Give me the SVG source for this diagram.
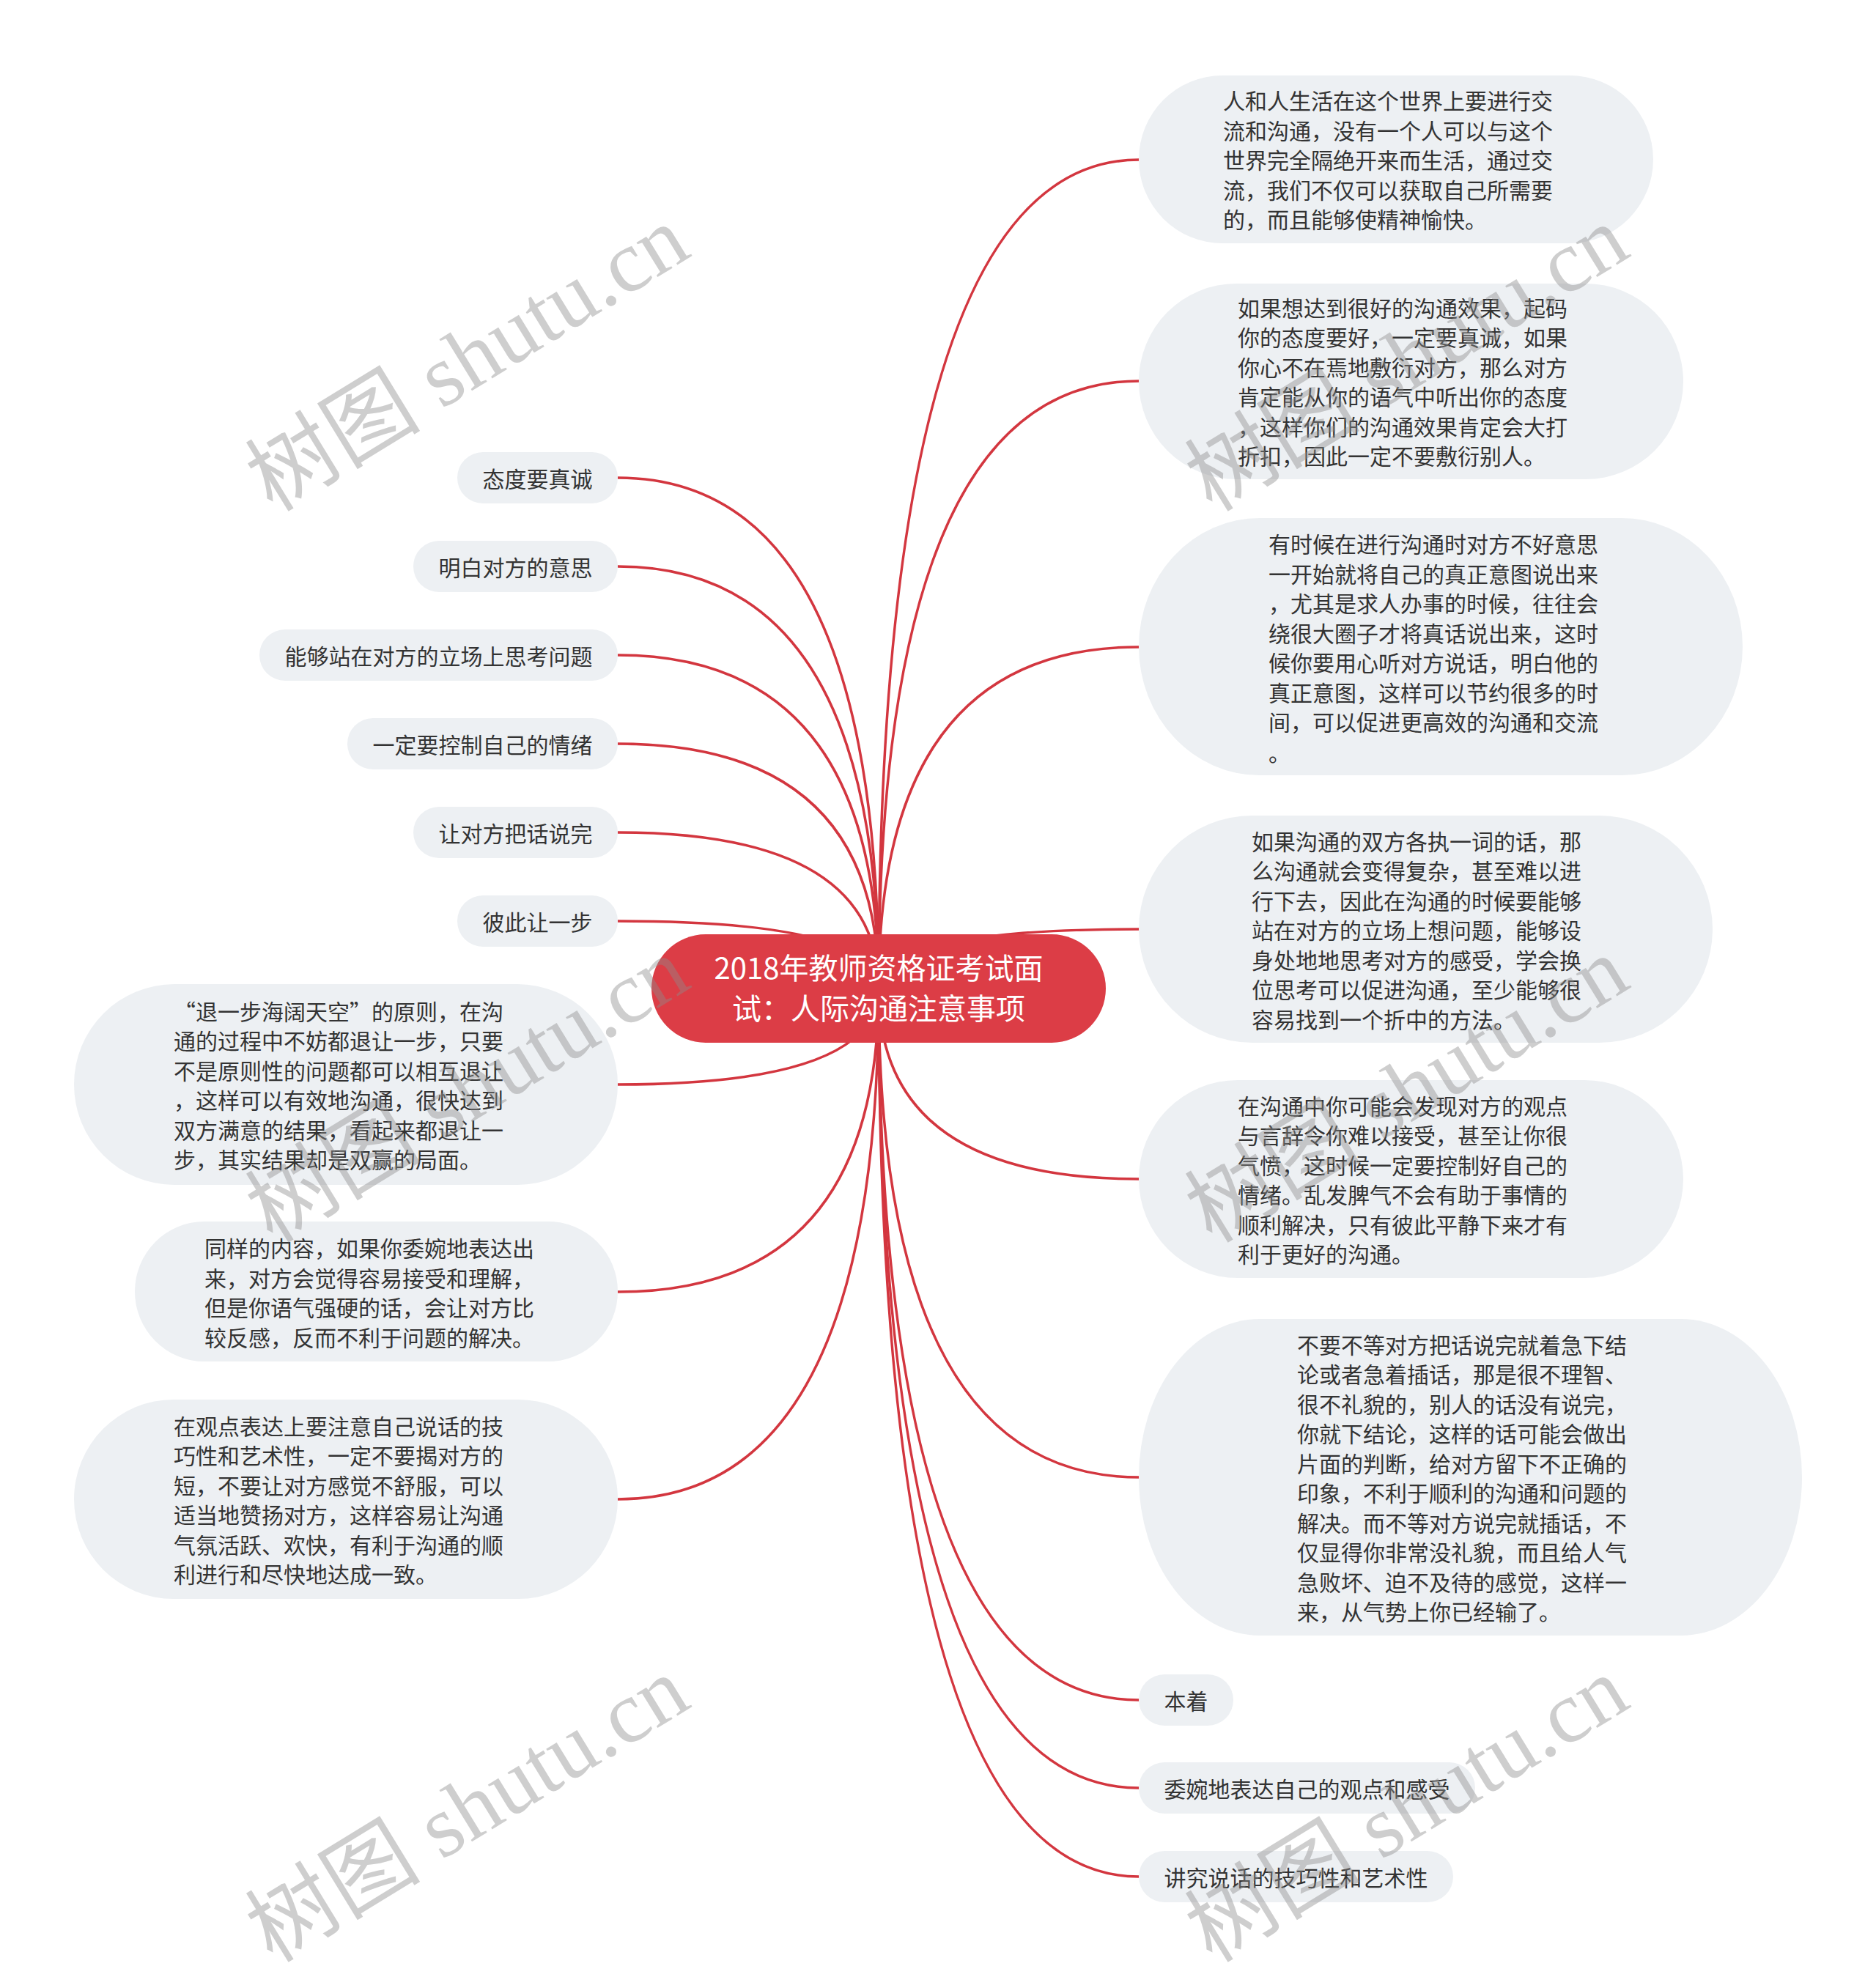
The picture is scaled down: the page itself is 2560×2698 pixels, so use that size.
<svg xmlns="http://www.w3.org/2000/svg" width="2560" height="2698" viewBox="0 0 2560 2698">
<style>
.bg{fill:#ffffff}
.node{fill:#edf0f3}
.t{font-family:"Noto Sans CJK SC","Noto Sans",sans-serif;font-size:30px;fill:#333333;dominant-baseline:central}
.tc{text-anchor:middle}
.root{fill:#dc3d46}
.rt{font-family:"Noto Sans CJK SC","Noto Sans",sans-serif;font-size:40px;fill:#ffffff;text-anchor:middle;dominant-baseline:central}
.link{fill:none;stroke:#d3363f;stroke-width:3.5}
.wm{font-family:"Liberation Serif","Noto Sans CJK SC",serif;font-size:120px;fill:#8c8c8c;opacity:0.42}
</style>
<rect class="bg" x="0" y="0" width="2560" height="2698"/>
<g id="connectors">
<path class="link" d="M1199,1349 Q1199,218 1554,218"/>
<path class="link" d="M1199,1349 Q1199,520 1554,520"/>
<path class="link" d="M1199,1349 Q1199,883 1554,883"/>
<path class="link" d="M1199,1349 Q1199,1268 1554,1268"/>
<path class="link" d="M1199,1349 Q1199,1609 1554,1609"/>
<path class="link" d="M1199,1349 Q1199,2016 1554,2016"/>
<path class="link" d="M1199,1349 Q1199,2320 1554,2320"/>
<path class="link" d="M1199,1349 Q1199,2440 1554,2440"/>
<path class="link" d="M1199,1349 Q1199,2561 1554,2561"/>
<path class="link" d="M1199,1349 Q1199,652 843,652"/>
<path class="link" d="M1199,1349 Q1199,773 843,773"/>
<path class="link" d="M1199,1349 Q1199,894 843,894"/>
<path class="link" d="M1199,1349 Q1199,1015 843,1015"/>
<path class="link" d="M1199,1349 Q1199,1136 843,1136"/>
<path class="link" d="M1199,1349 Q1199,1257 843,1257"/>
<path class="link" d="M1199,1349 Q1199,1480 843,1480"/>
<path class="link" d="M1199,1349 Q1199,1763 843,1763"/>
<path class="link" d="M1199,1349 Q1199,2046 843,2046"/>
</g>
<g id="root">
<rect class="root" x="889" y="1275" width="620" height="148" rx="74" ry="74"/>
<text class="rt" x="1199" y="1319">2018年教师资格证考试面</text>
<text class="rt" x="1199" y="1374">试：人际沟通注意事项</text>
</g>
<g id="r1">
<rect class="node" x="1554" y="103" width="702" height="229" rx="114" ry="114.5"/>
<text class="t"><tspan x="1669" y="136">人和人生活在这个世界上要进行交</tspan><tspan x="1669" y="176.5">流和沟通，没有一个人可以与这个</tspan><tspan x="1669" y="217">世界完全隔绝开来而生活，通过交</tspan><tspan x="1669" y="257.5">流，我们不仅可以获取自己所需要</tspan><tspan x="1669" y="298">的，而且能够使精神愉快。</tspan></text>
</g>
<g id="r2">
<rect class="node" x="1554" y="387" width="743" height="267" rx="133" ry="133.5"/>
<text class="t"><tspan x="1689" y="418.8">如果想达到很好的沟通效果，起码</tspan><tspan x="1689" y="459.3">你的态度要好，一定要真诚，如果</tspan><tspan x="1689" y="499.8">你心不在焉地敷衍对方，那么对方</tspan><tspan x="1689" y="540.3">肯定能从你的语气中听出你的态度</tspan><tspan x="1689" y="580.8">，这样你们的沟通效果肯定会大打</tspan><tspan x="1689" y="621.3">折扣，因此一定不要敷衍别人。</tspan></text>
</g>
<g id="r3">
<rect class="node" x="1554" y="707" width="824" height="351" rx="165" ry="175.5"/>
<text class="t"><tspan x="1731" y="741.3">有时候在进行沟通时对方不好意思</tspan><tspan x="1731" y="781.8">一开始就将自己的真正意图说出来</tspan><tspan x="1731" y="822.3">，尤其是求人办事的时候，往往会</tspan><tspan x="1731" y="862.8">绕很大圈子才将真话说出来，这时</tspan><tspan x="1731" y="903.3">候你要用心听对方说话，明白他的</tspan><tspan x="1731" y="943.8">真正意图，这样可以节约很多的时</tspan><tspan x="1731" y="984.3">间，可以促进更高效的沟通和交流</tspan><tspan x="1731" y="1026">。</tspan></text>
</g>
<g id="r4">
<rect class="node" x="1554" y="1113" width="783" height="310" rx="155" ry="155"/>
<text class="t"><tspan x="1708" y="1146.5">如果沟通的双方各执一词的话，那</tspan><tspan x="1708" y="1187">么沟通就会变得复杂，甚至难以进</tspan><tspan x="1708" y="1227.5">行下去，因此在沟通的时候要能够</tspan><tspan x="1708" y="1268">站在对方的立场上想问题，能够设</tspan><tspan x="1708" y="1308.5">身处地地思考对方的感受，学会换</tspan><tspan x="1708" y="1349">位思考可以促进沟通，至少能够很</tspan><tspan x="1708" y="1389.5">容易找到一个折中的方法。</tspan></text>
</g>
<g id="r5">
<rect class="node" x="1554" y="1474" width="743" height="270" rx="135" ry="135"/>
<text class="t"><tspan x="1689" y="1507.8">在沟通中你可能会发现对方的观点</tspan><tspan x="1689" y="1548.3">与言辞令你难以接受，甚至让你很</tspan><tspan x="1689" y="1588.8">气愤，这时候一定要控制好自己的</tspan><tspan x="1689" y="1629.3">情绪。乱发脾气不会有助于事情的</tspan><tspan x="1689" y="1669.8">顺利解决，只有彼此平静下来才有</tspan><tspan x="1689" y="1710.3">利于更好的沟通。</tspan></text>
</g>
<g id="r6">
<rect class="node" x="1554" y="1800" width="905" height="432" rx="165" ry="216"/>
<text class="t"><tspan x="1770" y="1833.8">不要不等对方把话说完就着急下结</tspan><tspan x="1770" y="1874.3">论或者急着插话，那是很不理智、</tspan><tspan x="1770" y="1914.8">很不礼貌的，别人的话没有说完，</tspan><tspan x="1770" y="1955.3">你就下结论，这样的话可能会做出</tspan><tspan x="1770" y="1995.8">片面的判断，给对方留下不正确的</tspan><tspan x="1770" y="2036.3">印象，不利于顺利的沟通和问题的</tspan><tspan x="1770" y="2076.8">解决。而不等对方说完就插话，不</tspan><tspan x="1770" y="2117.3">仅显得你非常没礼貌，而且给人气</tspan><tspan x="1770" y="2157.8">急败坏、迫不及待的感觉，这样一</tspan><tspan x="1770" y="2198.3">来，从气势上你已经输了。</tspan></text>
</g>
<g id="r7">
<rect class="node" x="1554" y="2285" width="129" height="70" rx="35" ry="35"/>
<text class="t tc" x="1618.5" y="2320">本着</text>
</g>
<g id="r8">
<rect class="node" x="1554" y="2405" width="459" height="70" rx="35" ry="35"/>
<text class="t tc" x="1783.5" y="2440">委婉地表达自己的观点和感受</text>
</g>
<g id="r9">
<rect class="node" x="1554" y="2526" width="429" height="70" rx="35" ry="35"/>
<text class="t tc" x="1768.5" y="2561">讲究说话的技巧性和艺术性</text>
</g>
<g id="l1">
<rect class="node" x="624" y="617" width="219" height="70" rx="35" ry="35"/>
<text class="t tc" x="733.5" y="652">态度要真诚</text>
</g>
<g id="l2">
<rect class="node" x="564" y="738" width="279" height="70" rx="35" ry="35"/>
<text class="t tc" x="703.5" y="773">明白对方的意思</text>
</g>
<g id="l3">
<rect class="node" x="354" y="859" width="489" height="70" rx="35" ry="35"/>
<text class="t tc" x="598.5" y="894">能够站在对方的立场上思考问题</text>
</g>
<g id="l4">
<rect class="node" x="474" y="980" width="369" height="70" rx="35" ry="35"/>
<text class="t tc" x="658.5" y="1015">一定要控制自己的情绪</text>
</g>
<g id="l5">
<rect class="node" x="564" y="1101" width="279" height="70" rx="35" ry="35"/>
<text class="t tc" x="703.5" y="1136">让对方把话说完</text>
</g>
<g id="l6">
<rect class="node" x="624" y="1222" width="219" height="70" rx="35" ry="35"/>
<text class="t tc" x="733.5" y="1257">彼此让一步</text>
</g>
<g id="l7">
<rect class="node" x="101" y="1343" width="742" height="274" rx="137" ry="137"/>
<text class="t"><tspan x="237" y="1378.8">“退一步海阔天空”的原则，在沟</tspan><tspan x="237" y="1419.3">通的过程中不妨都退让一步，只要</tspan><tspan x="237" y="1459.8">不是原则性的问题都可以相互退让</tspan><tspan x="237" y="1500.3">，这样可以有效地沟通，很快达到</tspan><tspan x="237" y="1540.8">双方满意的结果，看起来都退让一</tspan><tspan x="237" y="1581.3">步，其实结果却是双赢的局面。</tspan></text>
</g>
<g id="l8">
<rect class="node" x="184" y="1667" width="659" height="191" rx="95" ry="95.5"/>
<text class="t"><tspan x="279" y="1702">同样的内容，如果你委婉地表达出</tspan><tspan x="279" y="1742.5">来，对方会觉得容易接受和理解，</tspan><tspan x="279" y="1783">但是你语气强硬的话，会让对方比</tspan><tspan x="279" y="1823.5">较反感，反而不利于问题的解决。</tspan></text>
</g>
<g id="l9">
<rect class="node" x="101" y="1910" width="742" height="272" rx="136" ry="136"/>
<text class="t"><tspan x="237" y="1944.8">在观点表达上要注意自己说话的技</tspan><tspan x="237" y="1985.3">巧性和艺术性，一定不要揭对方的</tspan><tspan x="237" y="2025.8">短，不要让对方感觉不舒服，可以</tspan><tspan x="237" y="2066.3">适当地赞扬对方，这样容易让沟通</tspan><tspan x="237" y="2106.8">气氛活跃、欢快，有利于沟通的顺</tspan><tspan x="237" y="2147.3">利进行和尽快地达成一致。</tspan></text>
</g>
<g id="watermarks">
<text class="wm" transform="translate(372,700) rotate(-31.5)">树图 shutu.cn</text>
<text class="wm" transform="translate(372,1698) rotate(-31.5)">树图 shutu.cn</text>
<text class="wm" transform="translate(372,2680) rotate(-31.5)">树图 shutu.cn</text>
<text class="wm" transform="translate(1654,700) rotate(-31.5)">树图 shutu.cn</text>
<text class="wm" transform="translate(1654,1698) rotate(-31.5)">树图 shutu.cn</text>
<text class="wm" transform="translate(1654,2680) rotate(-31.5)">树图 shutu.cn</text>
</g>
</svg>
